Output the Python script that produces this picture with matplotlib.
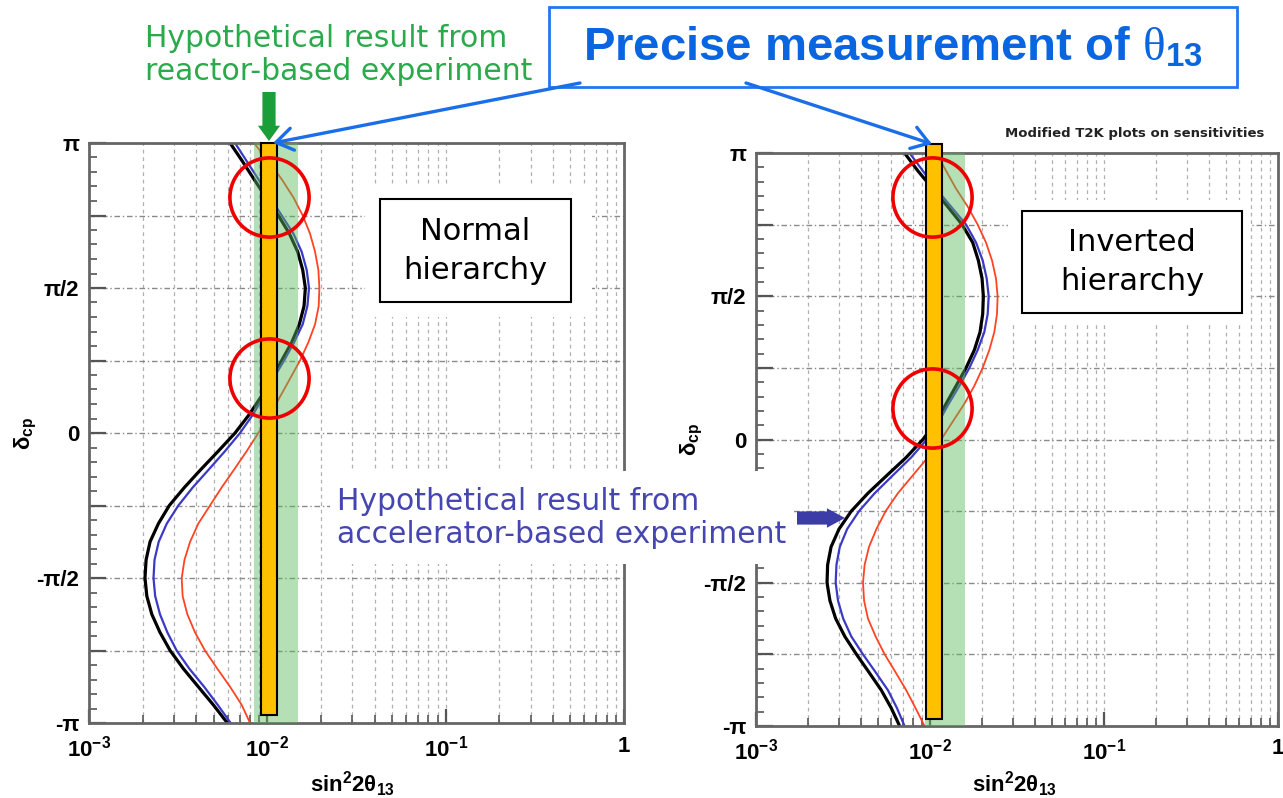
import numpy as np
import matplotlib
matplotlib.use('Agg')
import matplotlib.pyplot as plt
from matplotlib.transforms import Affine2D
from matplotlib.patches import Rectangle, FancyArrowPatch
from matplotlib.ticker import FixedLocator, LogLocator, NullFormatter

W, H = 1283, 798

plt.rcParams['font.family'] = ['Liberation Sans', 'DejaVu Sans']
plt.rcParams['mathtext.fontset'] = 'custom'
plt.rcParams['mathtext.rm'] = 'Liberation Sans:bold'
plt.rcParams['mathtext.bf'] = 'Liberation Sans:bold'
plt.rcParams['mathtext.it'] = 'Liberation Serif'

# delta_cp in units of pi, from pi down to -pi
delta_over_pi = [1.0, 0.9375, 0.875, 0.8125, 0.75, 0.6875, 0.625, 0.5625, 0.5,
                 0.4375, 0.375, 0.3125, 0.25, 0.1875, 0.125, 0.0625, 0.0,
                 -0.0625, -0.125, -0.1875, -0.25, -0.3125, -0.375, -0.4375, -0.5,
                 -0.5625, -0.625, -0.6875, -0.75, -0.8125, -0.875, -0.9375, -1.0]

# sin^2 2theta13 -- normal hierarchy
nh_black = [0.00618, 0.00724, 0.00842, 0.00983, 0.01153, 0.01329, 0.01480, 0.01579, 0.01634,
            0.01606, 0.01512, 0.01370, 0.01204, 0.01058, 0.00922, 0.00789, 0.00659,
            0.00531, 0.00425, 0.00343, 0.00282, 0.00245, 0.00220, 0.00209, 0.00206,
            0.00211, 0.00225, 0.00250, 0.00285, 0.00338, 0.00410, 0.00498, 0.00597]
nh_blue = [0.00659, 0.00766, 0.00891, 0.01036, 0.01204, 0.01400, 0.01558, 0.01662, 0.01713,
           0.01677, 0.01579, 0.01412, 0.01241, 0.01081, 0.00950, 0.00828, 0.00703,
           0.00579, 0.00471, 0.00382, 0.00317, 0.00273, 0.00246, 0.00233, 0.00230,
           0.00235, 0.00250, 0.00275, 0.00310, 0.00365, 0.00442, 0.00527, 0.00623]
nh_red = [0.00842, 0.01014, 0.01204, 0.01400, 0.01579, 0.01735, 0.01852, 0.01933, 0.01958,
          0.01941, 0.01852, 0.01698, 0.01525, 0.01341, 0.01178, 0.01036, 0.00891,
          0.00766, 0.00653, 0.00555, 0.00477, 0.00410, 0.00369, 0.00343, 0.00331,
          0.00335, 0.00356, 0.00393, 0.00447, 0.00524, 0.00618, 0.00718, 0.00800]

# inverted hierarchy
ih_black = [0.00714, 0.00852, 0.01038, 0.01265, 0.01529, 0.01760, 0.01896, 0.01991, 0.02026,
            0.02008, 0.01939, 0.01799, 0.01612, 0.01413, 0.01238, 0.01085, 0.00910,
            0.00730, 0.00566, 0.00440, 0.00353, 0.00300, 0.00270, 0.00258, 0.00256,
            0.00266, 0.00287, 0.00324, 0.00378, 0.00446, 0.00525, 0.00599, 0.00669]
ih_blue = [0.00763, 0.00910, 0.01085, 0.01322, 0.01612, 0.01839, 0.02008, 0.02117, 0.02174,
           0.02145, 0.02052, 0.01880, 0.01684, 0.01476, 0.01282, 0.01124, 0.00959,
           0.00780, 0.00612, 0.00481, 0.00391, 0.00334, 0.00303, 0.00290, 0.00287,
           0.00296, 0.00317, 0.00353, 0.00412, 0.00487, 0.00573, 0.00646, 0.00714]
ih_red = [0.01085, 0.01238, 0.01413, 0.01648, 0.01880, 0.02098, 0.02272, 0.02394, 0.02447,
          0.02426, 0.02342, 0.02193, 0.02008, 0.01799, 0.01577, 0.01351, 0.01159,
          0.00972, 0.00797, 0.00654, 0.00556, 0.00492, 0.00446, 0.00421, 0.00412,
          0.00418, 0.00440, 0.00487, 0.00549, 0.00634, 0.00730, 0.00826, 0.00930]

# reactor (green band) and precise theta13 (orange bar) ranges
green_nh = (0.00845, 0.0148)
green_ih = (0.0093, 0.0159)
bar_nh = (0.00925, 0.01138, -0.972, 1.0)
bar_ih = (0.0095, 0.01165, -0.975, 1.032)
# red circles: (sin^2 2theta13, delta/pi)
circles_nh = [(0.0102, 0.814), (0.0102, 0.190)]
circles_ih = [(0.0103, 0.846), (0.0103, 0.110)]

ytick_vals = [-1, -0.75, -0.5, -0.25, 0, 0.25, 0.5, 0.75, 1]
ytick_labels = ['-π', '', '-π/2', '', '0', '', 'π/2', '', 'π']
xtick_vals = [1e-3, 1e-2, 1e-1, 1]
xtick_labels = [r'$\mathbf{10^{-3}}$', r'$\mathbf{10^{-2}}$', r'$\mathbf{10^{-1}}$', r'$\mathbf{1}$']

fig = plt.figure(figsize=(W / 100, H / 100), dpi=100)
px = Affine2D().scale(1 / W, -1 / H).translate(0, 1) + fig.transFigure


def make_panel(rect, black, blue, red, green, bar, circles):
    ax = fig.add_axes(rect)
    d = np.array(delta_over_pi) * np.pi
    ax.plot(black, d, color='black', lw=2.3, zorder=2)
    ax.plot(blue, d, color='#3a3ac4', lw=1.6, zorder=2)
    ax.plot(red, d, color='#ff4422', lw=1.3, zorder=2)
    ax.axvspan(green[0], green[1], color='#5cb85c', alpha=0.45, lw=0, zorder=3)
    x0, x1, y0, y1 = bar
    ax.add_patch(Rectangle((x0, y0 * np.pi), x1 - x0, (y1 - y0) * np.pi,
                           facecolor='#ffc000', edgecolor='black', lw=1.5,
                           zorder=4, clip_on=False))
    for cx, cy in circles:
        ax.plot(cx, cy * np.pi, 'o', ms=57, mfc='none', mec='#ee0000', mew=2.6,
                zorder=5, clip_on=False)
    ax.set_xscale('log')
    ax.set_xlim(1e-3, 1)
    ax.set_ylim(-np.pi, np.pi)
    ax.xaxis.set_major_locator(FixedLocator(xtick_vals))
    ax.set_xticklabels(xtick_labels, fontsize=16)
    ax.xaxis.set_minor_locator(LogLocator(base=10, subs=np.arange(2, 10)))
    ax.xaxis.set_minor_formatter(NullFormatter())
    ax.yaxis.set_major_locator(FixedLocator(np.array(ytick_vals) * np.pi))
    ax.set_yticklabels(ytick_labels, fontsize=16, fontweight='bold')
    ax.yaxis.set_minor_locator(FixedLocator(np.linspace(-1, 1, 41) * np.pi))
    ax.tick_params(which='both', direction='in', top=False, right=False, color='#555555')
    ax.tick_params(axis='y', which='major', length=12, width=1.6, pad=7)
    ax.tick_params(axis='y', which='minor', length=6, width=1.2)
    ax.tick_params(axis='x', which='major', length=10, width=1.6, pad=9)
    ax.tick_params(axis='x', which='minor', length=6, width=1.2)
    ax.grid(True, axis='y', which='major', color='#8a8a8a', lw=1.0, ls=(0, (4, 2, 1, 2)))
    ax.grid(True, axis='x', which='both', color='#b0b0b0', lw=0.9, ls=(0, (3, 3)))
    for s in ax.spines.values():
        s.set_color('#666666')
        s.set_linewidth(2)
    ax.set_xlabel(r'$\mathbf{sin^{2}2\theta_{13}}$', fontsize=16)
    ax.set_ylabel(r'$\mathbf{\delta_{cp}}$', fontsize=16)
    return ax


ax1 = make_panel([89 / W, 1 - 723 / H, 535 / W, 580 / H],
                 nh_black, nh_blue, nh_red, green_nh, bar_nh, circles_nh)
ax1.xaxis.set_label_coords(0.493, -0.080)
ax1.yaxis.set_label_coords(-0.093, 0.5)

ax2 = make_panel([756 / W, 1 - 726 / H, 522 / W, 573 / H],
                 ih_black, ih_blue, ih_red, green_ih, bar_ih, circles_ih)
ax2.xaxis.set_label_coords(0.496, -0.076)
ax2.yaxis.set_label_coords(-0.098, 0.5)

# white areas behind the hierarchy labels and the accelerator note
fig.add_artist(Rectangle((365, 187), 227, 130, transform=px, fc='white', ec='none', zorder=1))
fig.add_artist(Rectangle((1008, 200), 242, 122, transform=px, fc='white', ec='none', zorder=1))
fig.add_artist(Rectangle((330, 471), 462, 93, transform=px, fc='white', ec='none', zorder=1))

fig.add_artist(Rectangle((380, 199), 191, 103, transform=px, fc='white', ec='black', lw=1.5, zorder=2))
fig.add_artist(Rectangle((1022, 211), 220, 102, transform=px, fc='white', ec='black', lw=1.5, zorder=2))
fig.text(475, 251, 'Normal\nhierarchy', transform=px, ha='center', va='center',
         fontsize=22, family='DejaVu Sans', linespacing=1.45, zorder=3)
fig.text(1132, 262, 'Inverted\nhierarchy', transform=px, ha='center', va='center',
         fontsize=22, family='DejaVu Sans', linespacing=1.45, zorder=3)

fig.text(145, 55, 'Hypothetical result from\nreactor-based experiment', transform=px,
         ha='left', va='center', fontsize=21.5, family='DejaVu Sans', color='#2aaa4a',
         linespacing=1.15)
fig.text(337, 518, 'Hypothetical result from\naccelerator-based experiment', transform=px,
         ha='left', va='center', fontsize=21.5, family='DejaVu Sans', color='#4646b0',
         linespacing=1.15, zorder=3)
fig.text(1264, 133, 'Modified T2K plots on sensitivities', transform=px, ha='right',
         va='center', fontsize=9.5, fontweight='bold', family='DejaVu Sans', color='#222222')

# title box
fig.add_artist(Rectangle((549, 7), 688, 80, transform=px, fc='white', ec='#2277ee', lw=2, zorder=2))
fig.text(583, 49, r'Precise measurement of $\theta_{\mathbf{13}}$', transform=px,
         ha='left', va='center', fontsize=34, fontweight='bold', color='#0a66e0', zorder=3)

# arrows
fig.add_artist(FancyArrowPatch((580, 83), (273, 143), transform=px, arrowstyle='->,head_length=0.6,head_width=0.4',
                               mutation_scale=20, color='#1a6ee8', lw=2.4, shrinkA=0, shrinkB=0, zorder=6))
fig.add_artist(FancyArrowPatch((746, 83), (932, 144), transform=px, arrowstyle='->,head_length=0.6,head_width=0.4',
                               mutation_scale=20, color='#1a6ee8', lw=2.4, shrinkA=0, shrinkB=0, zorder=6))
fig.add_artist(FancyArrowPatch((269, 92), (269, 141), transform=px,
                               arrowstyle='simple,head_width=1.6,head_length=1.1,tail_width=0.95',
                               mutation_scale=10, color='#1a9e3a', lw=0, shrinkA=0, shrinkB=0, zorder=6))
fig.add_artist(FancyArrowPatch((797, 518), (845, 518), transform=px,
                               arrowstyle='simple,head_width=1.4,head_length=1.3,tail_width=0.95',
                               mutation_scale=10, color='#3c3ca8', lw=0, shrinkA=0, shrinkB=0, zorder=6))

fig.savefig('out.png', dpi=100)
